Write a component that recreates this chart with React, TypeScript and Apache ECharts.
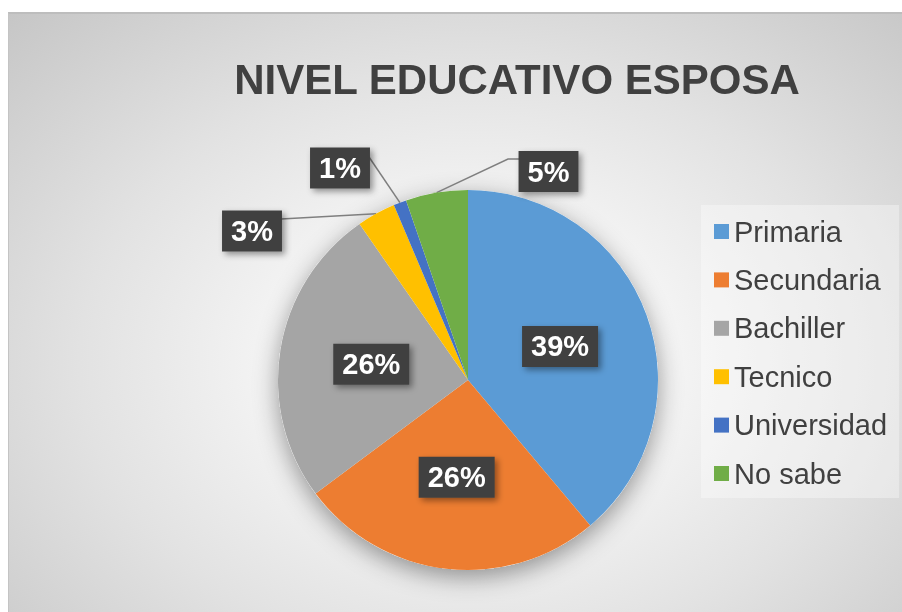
import React, { useEffect, useRef } from "react";
import * as echarts from "echarts";

const TITLE = "NIVEL EDUCATIVO ESPOSA";
const categories = ["Primaria", "Secundaria", "Bachiller", "Tecnico", "Universidad", "No sabe"];
const values = [39.0, 26.0, 25.6, 3.3, 1.1, 5.3];
const colors = ["#5B9BD5", "#ED7D31", "#A5A5A5", "#FFC000", "#4472C4", "#70AD47"];
const outsideLabels = ["Tecnico", "Universidad", "No sabe"];

// label placement for the small slices (chart pixel coords)
const LABEL_PLACE: Record<string, { x: number; y: number; bend: number[]; end: number[] }> = {
  Tecnico: { x: 243, y: 217, bend: [272, 205], end: [272, 205] },
  Universidad: { x: 331, y: 154, bend: [360, 143], end: [360, 143] },
  "No sabe": { x: 539.5, y: 157.5, bend: [499, 145], end: [510, 145] },
};

const FONT = "'Liberation Sans', Arial, sans-serif";

export default function App() {
  const ref = useRef<HTMLDivElement>(null);
  useEffect(() => {
    if (!ref.current) return;
    const chart = echarts.init(ref.current, undefined, { renderer: "svg" });
    const data = categories.map((name, i) => {
      const outside = outsideLabels.includes(name);
      return {
        name,
        value: values[i],
        itemStyle: { color: colors[i] },
        label: { position: outside ? "outside" : "inside" },
        labelLine: { show: outside },
      };
    });
    chart.setOption({
      animation: false,
      title: {
        text: TITLE,
        left: 503,
        top: 39,
        textAlign: "center",
        textStyle: { fontFamily: FONT, fontSize: 42, fontWeight: "bold", color: "#404040" },
      },
      legend: {
        orient: "vertical",
        left: 692,
        top: 191,
        data: categories,
        icon: "rect",
        itemWidth: 15,
        itemHeight: 15,
        itemGap: 19.4,
        padding: [12, 12, 10, 13],
        backgroundColor: "rgba(255,255,255,0.35)",
        textStyle: { fontFamily: FONT, fontSize: 29, lineHeight: 28, color: "#404040" },
      },
      series: [
        {
          type: "pie",
          silent: true,
          center: [459, 366],
          radius: 190,
          z: 1,
          label: { show: false },
          labelLine: { show: false },
          itemStyle: {
            color: "#ffffff",
            shadowBlur: 24,
            shadowColor: "rgba(0,0,0,0.4)",
            shadowOffsetY: 7,
          },
          data: [{ name: "shadow", value: 1 }],
        },
        {
          type: "pie",
          center: [459, 366],
          radius: 190,
          startAngle: 90,
          clockwise: true,
          z: 2,
          avoidLabelOverlap: false,
          itemStyle: { borderWidth: 0 },
          label: {
            show: true,
            formatter: (p: any) => Math.round(p.percent) + "%",
            fontFamily: FONT,
            fontSize: 29,
            fontWeight: "bold",
            color: "#ffffff",
            backgroundColor: "#404040",
            padding: [7, 9, 5, 9],
            shadowBlur: 6,
            shadowOffsetX: 3,
            shadowOffsetY: 3,
            shadowColor: "rgba(0,0,0,0.4)",
          },
          labelLine: {
            show: true,
            length: 20,
            length2: 10,
            lineStyle: { color: "#7F7F7F", width: 1.5 },
          },
          labelLayout: (params: any) => {
            const name = categories[params.dataIndex];
            const place = LABEL_PLACE[name];
            if (!place) return {};
            const start = params.labelLinePoints ? params.labelLinePoints[0] : place.bend;
            return {
              x: place.x,
              y: place.y,
              align: "center",
              verticalAlign: "middle",
              labelLinePoints: [start, place.bend, place.end],
            };
          },
          data,
        },
      ],
    });
    return () => chart.dispose();
  }, []);
  return (
    <div
      ref={ref}
      style={{
        position: "fixed",
        left: 8,
        top: 12,
        width: 894,
        height: 600,
        boxSizing: "border-box",
        borderTop: "2px solid #bdbdbd",
        borderLeft: "1px solid #c4c4c4",
        background: "radial-gradient(ellipse at 52% 58%, #ffffff 0%, #f4f4f4 30%, #e2e2e2 60%, #c6c6c6 100%)",
      }}
    />
  );
}
